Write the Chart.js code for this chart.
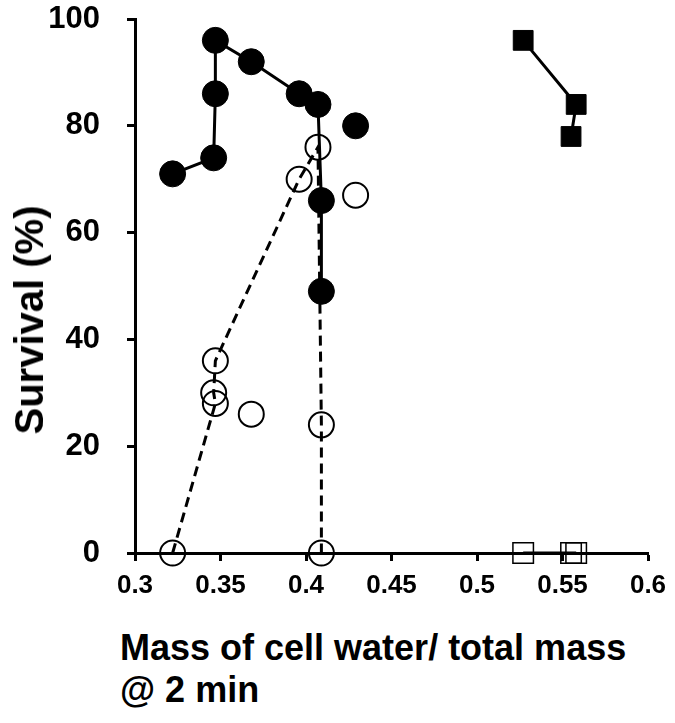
<!DOCTYPE html>
<html>
<head>
<meta charset="utf-8">
<script src="https://cdn.jsdelivr.net/npm/chart.js@4"></script>
<style>
  body { margin: 0; background: #fff; }
  #wrap { position: relative; width: 675px; height: 723px; }
  #ytitle {
    position: absolute; left: 29px; top: 320px;
    transform: translate(-50%, -50%) rotate(-90deg);
    font: bold 40px "Liberation Sans", Arial, sans-serif;
    line-height: 1; white-space: nowrap; color: #000;
  }
  #xtitle {
    position: absolute; left: 120px; top: 627px;
    font: bold 36px "Liberation Sans", Arial, sans-serif;
    line-height: 42px; color: #000; white-space: nowrap;
  }
  #xtitle .narrow { font-family: "Liberation Sans Narrow", "Arial Narrow", sans-serif; }
</style>
</head>
<body>
<div id="wrap">
  <canvas id="myChart" width="675" height="600"></canvas>
  <div id="ytitle">Survival (%)</div>
  <div id="xtitle">Mass of cell water/ total mass<br>@ 2 <span class="narrow">min</span></div>
</div>
<script>
// values
const filledX = [0.322, 0.346, 0.347, 0.347, 0.368, 0.396, 0.407, 0.409, 0.409];
const filledY = [71, 74, 86, 96, 92, 86, 84, 66, 49];
const filledLoneX = [0.429];
const filledLoneY = [80];

const openX = [0.322, 0.347, 0.346, 0.347, 0.396, 0.407, 0.409, 0.409];
const openY = [0, 28, 30, 36, 70, 76, 24, 0];
const openLoneX = [0.368, 0.429];
const openLoneY = [26, 67];

const squareX = [0.527, 0.558, 0.555];
const squareY = [96, 84, 78];
const openSquareX = [0.527, 0.555, 0.558];
const openSquareY = [0, 0, 0];

const xTicks = [0.3, 0.35, 0.4, 0.45, 0.5, 0.55, 0.6];
const yTicks = [0, 20, 40, 60, 80, 100];

const pts = (xs, ys) => xs.map((x, i) => ({x: x, y: ys[i]}));

const ctx = document.getElementById("myChart").getContext("2d");

const myChart = new Chart(ctx, {
    type: "scatter",
    data: {
        datasets: [
            {
                data: pts(filledX, filledY),
                showLine: true,
                borderColor: '#000',
                backgroundColor: '#000',
                borderWidth: 3,
                pointRadius: 13,
                pointBorderWidth: 1
            },
            {
                data: pts(filledLoneX, filledLoneY),
                borderColor: '#000',
                backgroundColor: '#000',
                pointRadius: 13,
                pointBorderWidth: 1
            },
            {
                data: pts(openX, openY),
                showLine: true,
                borderColor: '#000',
                backgroundColor: 'rgba(0,0,0,0)',
                borderWidth: 3,
                borderDash: [10, 6],
                pointRadius: 12.5,
                pointBorderWidth: 2
            },
            {
                data: pts(openLoneX, openLoneY),
                borderColor: '#000',
                backgroundColor: 'rgba(0,0,0,0)',
                pointRadius: 12.5,
                pointBorderWidth: 2
            },
            {
                data: pts(squareX, squareY),
                showLine: true,
                pointStyle: 'rect',
                borderColor: '#000',
                backgroundColor: '#000',
                borderWidth: 3,
                pointRadius: 14,
                pointBorderWidth: 1
            },
            {
                data: pts(openSquareX, openSquareY),
                showLine: true,
                pointStyle: 'rect',
                borderColor: '#000',
                backgroundColor: 'rgba(0,0,0,0)',
                borderWidth: 3,
                pointRadius: 14.5,
                pointBorderWidth: 1.5
            }
        ]
    },
    options: {
        responsive: false,
        animation: false,
        clip: false,
        layout: {padding: {left: 0, right: 27, top: 19, bottom: 0}},
        plugins: {
            legend: {display: false},
            tooltip: {enabled: false}
        },
        scales: {
            x: {
                type: 'linear',
                min: 0.3,
                max: 0.6,
                afterBuildTicks: function (scale) {
                    scale.ticks = xTicks.map(v => ({value: v}));
                },
                afterFit: function (scale) {
                    scale.height = 47;
                    scale.paddingLeft = 0;
                    scale.paddingRight = 0;
                },
                border: {display: true, color: '#000', width: 3},
                grid: {drawOnChartArea: false, drawTicks: true, tickLength: 8, tickWidth: 3, tickColor: '#000'},
                ticks: {
                    color: '#000',
                    padding: 9,
                    maxRotation: 0,
                    font: {family: '"Liberation Sans Narrow", "Arial Narrow", sans-serif', size: 26, weight: 'bold'},
                    callback: function (value) {
                        return String(Number(value.toFixed(2)));
                    }
                }
            },
            y: {
                min: 0,
                max: 100,
                afterBuildTicks: function (scale) {
                    scale.ticks = yTicks.map(v => ({value: v}));
                },
                afterFit: function (scale) {
                    scale.width = 135;
                    scale.paddingTop = 0;
                    scale.paddingBottom = 0;
                },
                border: {display: true, color: '#000', width: 3},
                grid: {drawOnChartArea: false, drawTicks: true, tickLength: 8, tickWidth: 3, tickColor: '#000'},
                ticks: {
                    color: '#000',
                    padding: 27,
                    font: {family: '"Liberation Sans", Arial, sans-serif', size: 31, weight: 'bold'}
                }
            }
        }
    }
});
</script>
</body>
</html>
